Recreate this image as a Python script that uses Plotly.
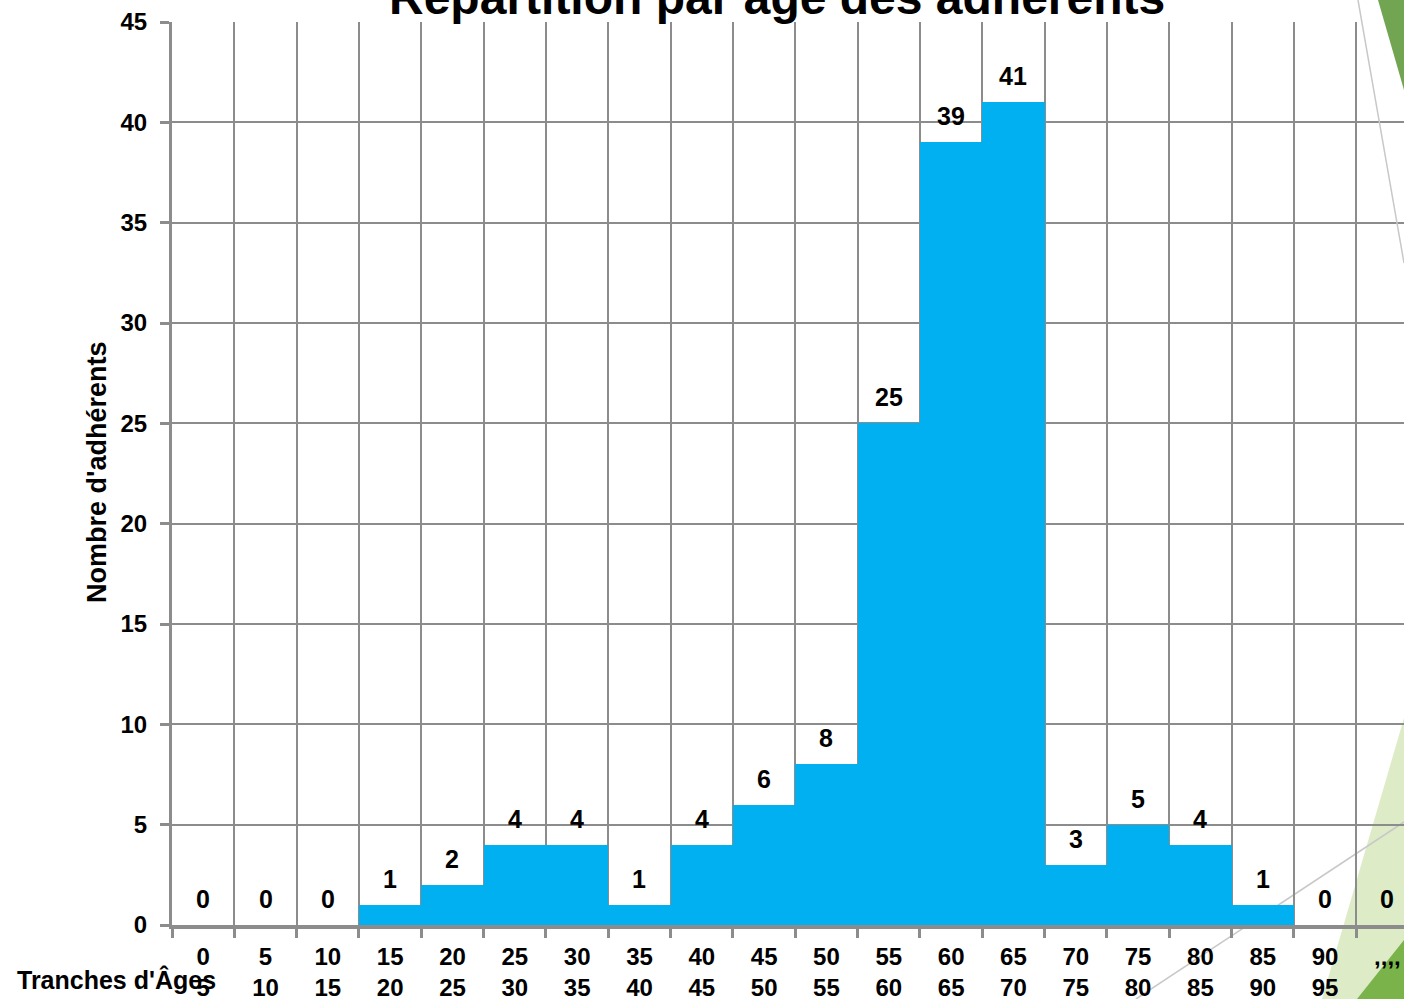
import plotly.graph_objects as go

# ---------------- data ----------------
tranches = ["0<br>5", "5<br>10", "10<br>15", "15<br>20", "20<br>25", "25<br>30",
            "30<br>35", "35<br>40", "40<br>45", "45<br>50", "50<br>55", "55<br>60",
            "60<br>65", "65<br>70", "70<br>75", "75<br>80", "80<br>85", "85<br>90",
            "90<br>95", ",,,,"]
adherents = [0, 0, 0, 1, 2, 4, 4, 1, 4, 6, 8, 25, 39, 41, 3, 5, 4, 1, 0, 0]
y_ticks = [0, 5, 10, 15, 20, 25, 30, 35, 40, 45]

titre = "Répartition par âge des adhérents"
titre_y = "Nombre d'adhérents"
titre_x = "Tranches d'Âges"

# ---------------- layout geometry ----------------
W, H = 1404, 999
PLOT_X0, PLOT_X1 = 172, 1404   # page pixels
PLOT_Y0, PLOT_Y1 = 22, 925
L = PLOT_X0
T = PLOT_Y0
R = W - PLOT_X1
B = H - PLOT_Y1
PW = PLOT_X1 - PLOT_X0
PH = PLOT_Y1 - PLOT_Y0
CAT_W = 62.33


def px(xp):
    return (xp - PLOT_X0) / PW


def py(yp):
    return (PLOT_Y1 - yp) / PH


GRID = "#8c8c8c"
BLUE = "#00B0F0"
FONT = "Liberation Sans, Arial, sans-serif"

fig = go.Figure()
fig.add_trace(go.Bar(
    x=tranches, y=adherents,
    marker=dict(color=BLUE, line=dict(width=0)),
    hoverinfo="x+y",
))

annotations = []
for cat, v in zip(tranches, adherents):
    annotations.append(dict(
        x=cat, y=v, xref="x", yref="y", text=f"<b>{v}</b>", showarrow=False,
        yanchor="bottom", xanchor="center", yshift=10,
        font=dict(family=FONT, size=25, color="#000000"),
    ))

# title (cut at top as in reference)
annotations.append(dict(
    x=px(776.5), y=py(26), xref="paper", yref="paper", text=f"<b>{titre}</b>",
    showarrow=False, xanchor="center", yanchor="bottom",
    font=dict(family=FONT, size=48, color="#000000"),
))
# y axis title
annotations.append(dict(
    x=px(97), y=py(473), xref="paper", yref="paper", text=f"<b>{titre_y}</b>",
    showarrow=False, xanchor="center", yanchor="middle", textangle=-90,
    font=dict(family=FONT, size=27, color="#000000"),
))
# x axis title
annotations.append(dict(
    x=px(15), y=py(980), xref="paper", yref="paper", text=f"<b>{titre_x}</b>",
    showarrow=False, xanchor="left", yanchor="middle",
    font=dict(family=FONT, size=25, color="#000000"),
))

shapes = [
    # light green band bottom-right (behind grid)
    dict(type="path", xref="paper", yref="paper", layer="below",
         path=f"M {px(1322)} {py(999)} L {px(1404)} {py(718)} L {px(1404)} {py(999)} Z",
         fillcolor="#DDEBC7", line=dict(width=0)),
    # dark green triangle bottom-right
    dict(type="path", xref="paper", yref="paper", layer="below",
         path=f"M {px(1357)} {py(999)} L {px(1404)} {py(940)} L {px(1404)} {py(999)} Z",
         fillcolor="#7AB34A", line=dict(width=0)),
    # thin grey line bottom-right
    dict(type="line", xref="paper", yref="paper", layer="below",
         x0=px(1136), y0=py(999), x1=px(1404), y1=py(822),
         line=dict(color="#c8c8c8", width=1.5)),
    # thin grey line top-right
    dict(type="line", xref="paper", yref="paper", layer="above",
         x0=px(1358), y0=py(0), x1=px(1404), y1=py(263),
         line=dict(color="#c8c8c8", width=1.5)),
    # dark green triangle top-right
    dict(type="path", xref="paper", yref="paper", layer="above",
         path=f"M {px(1378)} {py(0)} L {px(1404)} {py(0)} L {px(1404)} {py(90)} Z",
         fillcolor="#72A552", line=dict(width=0)),
]

fig.update_layout(
    width=W, height=H,
    margin=dict(l=L, r=R, t=T, b=B, pad=0, autoexpand=False),
    paper_bgcolor="white", plot_bgcolor="white",
    bargap=0, showlegend=False,
    font=dict(family=FONT, size=24, color="#000000"),
    annotations=annotations, shapes=shapes,
)
fig.update_xaxes(
    type="category", range=[-0.5, -0.5 + PW / CAT_W], automargin=False,
    tickson="boundaries", showgrid=True, gridcolor=GRID, gridwidth=2,
    showline=True, linecolor=GRID, linewidth=4,
    ticks="outside", ticklen=9, tickwidth=3, tickcolor=GRID,
    tickfont=dict(family=FONT, size=24, color="#000000", weight="bold"),
    ticklabelstandoff=7,
)
fig.update_yaxes(
    range=[0, 45], tickvals=y_ticks, automargin=False,
    showgrid=True, gridcolor=GRID, gridwidth=2,
    zeroline=False, showline=True, linecolor=GRID, linewidth=3,
    ticks="outside", ticklen=9, tickwidth=3, tickcolor=GRID,
    tickfont=dict(family=FONT, size=24, color="#000000", weight="bold"),
    ticklabelstandoff=8,
)

fig.write_html(
    "out.html",
    config={"displayModeBar": False},
    post_script="document.body.style.margin='0px';"
                "document.body.style.overflow='hidden';",
)
